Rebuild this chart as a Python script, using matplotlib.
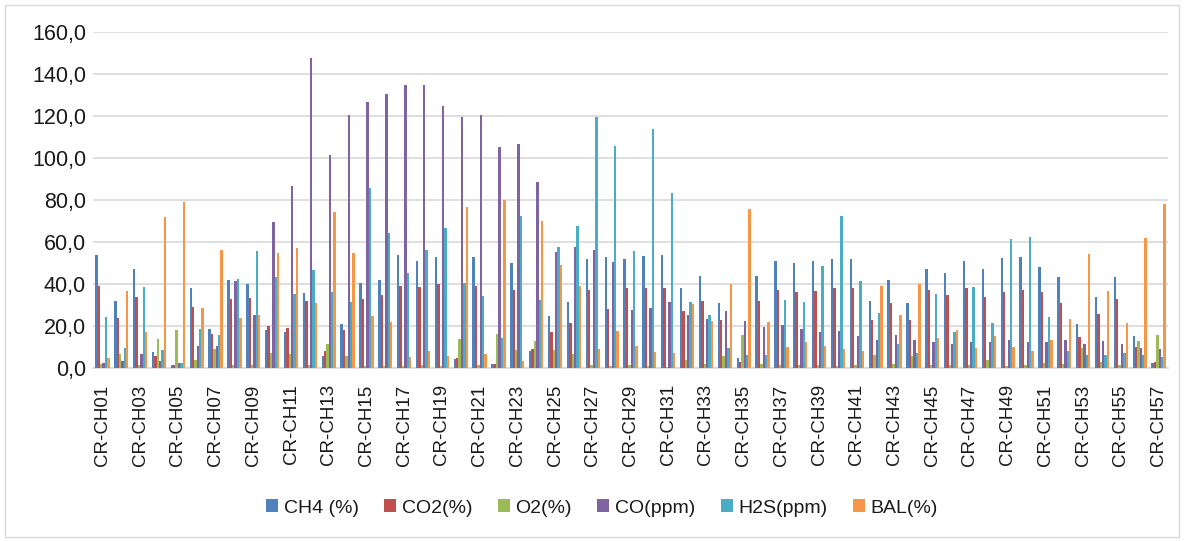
import numpy as np
import matplotlib
matplotlib.use("Agg")
import matplotlib.pyplot as plt
from matplotlib.patches import Rectangle
from matplotlib.ticker import FuncFormatter

categories = ["CR-CH%02d" % i for i in range(1, 58)]

ch4 = [53.7, 31.7, 47, 7.6, 1.1, 37.9, 18.6, 41.6, 39.8, 17.8, 16.8, 35.4, 5.7, 20.6, 40.5, 41.6,
       53.7, 50.8, 52.5, 4.3, 52.5, 1.6, 49.7, 7.9, 24.6, 31.4, 51.9, 52.9, 51.7, 53.2, 53.7, 37.9,
       43.8, 30.8, 4.6, 43.8, 50.8, 49.7, 50.8, 51.7, 51.7, 31.6, 41.7, 31, 47, 44.9, 50.8, 47,
       52.4, 52.9, 47.8, 43.3, 20.6, 33.7, 43.3, 15.1, 2.4]
co2 = [38.7, 23.7, 33.7, 5.7, 1.1, 28.9, 15.9, 32.7, 33, 20, 18.7, 31.6, 7.9, 17.9, 32.7, 34.8,
       38.7, 38.6, 39.8, 4.6, 38.9, 1.6, 37.1, 8.7, 16.8, 21.4, 37, 27.8, 37.9, 37.9, 37.9, 26.8,
       31.6, 22.5, 2.9, 31.7, 37, 35.9, 36.7, 37.8, 37.8, 22.7, 30.6, 22.5, 37, 34.8, 37.9, 33.5,
       35.9, 37, 35.9, 30.6, 14.6, 25.7, 32.7, 9.7, 2.9]
o2 = [2, 6.7, 1.3, 13.7, 17.8, 3.8, 8.7, 1.3, 1.1, 7, 6.7, 1.1, 11.4, 5.7, 1, 1,
      1, 1.3, 0.8, 13.7, 1.1, 16, 8.6, 12.7, 8.6, 6.7, 1.1, 0.8, 1.3, 0.8, 0.5, 3.7,
      1.7, 5.7, 15.7, 1.6, 1.3, 1.1, 1.1, 0.8, 1.3, 6, 1.7, 5.6, 1.3, 1.3, 1.1, 3.5,
      0.8, 1.3, 2.2, 1.6, 9.5, 2.7, 1.1, 12.5, 15.7]
co = [2.4, 3.2, 6.3, 3.2, 2.4, 10.2, 10.3, 41.3, 25.2, 69.2, 86.5, 147.3, 101.3, 120.3, 126.3, 130.5,
      134.4, 134.4, 124.4, 119.4, 120.3, 105.3, 106.3, 88.3, 55.2, 57.3, 56.2, 50.3, 27.3, 28.3, 31.3, 25.2,
      23.3, 27.1, 22.2, 19.2, 20.3, 18.3, 17.1, 17.5, 15.2, 13.2, 15.4, 13.2, 12.2, 11.3, 12.2, 12.2,
      13.2, 12.2, 12.2, 13.2, 11.3, 12.7, 11.3, 9.2, 8.9]
h2s = [24.1, 9.2, 38.3, 8.3, 2.4, 18.4, 15.4, 42.2, 55.4, 43.2, 35.1, 46.3, 36.2, 31.3, 85.4, 64.3,
       45.2, 56.2, 66.3, 40.2, 34.3, 14, 72.4, 32.2, 57.3, 67.3, 119.2, 105.4, 55.4, 113.5, 83.3, 31.1,
       25.2, 9.2, 6.2, 6.2, 32.2, 31.1, 48.3, 72.4, 41.3, 26.2, 11.3, 7.1, 35.1, 17.1, 38.3, 21.1,
       61.3, 62.2, 24.3, 8.1, 6.2, 6.2, 7.1, 6.2, 5.1]
bal = [4.8, 36.7, 17, 71.9, 78.7, 28.4, 56, 23.7, 25.2, 54.4, 56.8, 31, 74, 54.6, 24.8, 21.6,
       5.2, 7.9, 5.6, 76.3, 6.3, 79.7, 3.2, 69.8, 48.9, 39, 8.9, 17.6, 10.3, 7.6, 7, 30.3,
       22.1, 39.8, 75.7, 21.9, 9.8, 12.4, 10.3, 8.9, 7.9, 38.7, 24.9, 39.8, 14, 17.9, 9.2, 15.1,
       9.7, 7.9, 13.2, 23.2, 54.1, 36.5, 21.4, 61.6, 77.9]

series_names = ["CH4 (%)", "CO2(%)", "O2(%)", "CO(ppm)", "H2S(ppm)", "BAL(%)"]
series_values = [ch4, co2, o2, co, h2s, bal]
colors = ["#4F81BD", "#C0504D", "#9BBB59", "#8064A2", "#4BACC6", "#F79646"]

REG = ["Liberation Sans", "DejaVu Sans"]

W, H = 1184, 541
fig = plt.figure(figsize=(W / 100, H / 100), dpi=100)
fig.patch.set_facecolor("white")

# outer chart border
fig.patches.append(Rectangle((5 / W, 4 / H), 1174 / W, 532 / H, transform=fig.transFigure,
                             fill=False, edgecolor="#D9D9D9", linewidth=1.0))

left, right = 93, 1168
bottom_px, top_px = 367.7, 31.7
ax = fig.add_axes([left / W, (H - bottom_px) / H, (right - left) / W, (bottom_px - top_px) / H])

n = len(categories)
x = np.arange(n)
bw = 0.126
for i, (name, vals, c) in enumerate(zip(series_names, series_values, colors)):
    ax.bar(x + (i - 2.5) * bw, vals, width=bw, color=c, label=name, linewidth=0, zorder=3)

ax.set_xlim(-0.5, n - 0.5)
ax.set_ylim(0, 160)
ax.set_yticks(np.arange(0, 161, 20))
ax.yaxis.set_major_formatter(FuncFormatter(lambda v, p: ("%.1f" % v).replace(".", ",")))
ax.grid(axis="y", color="#D9D9D9", linewidth=1.2, zorder=0)
ax.set_axisbelow(True)
for s in ["top", "right", "left"]:
    ax.spines[s].set_visible(False)
ax.spines["bottom"].set_color("#D9D9D9")
ax.spines["bottom"].set_linewidth(1.2)

ax.set_xticks(x[::2])
ax.set_xticklabels(categories[::2], rotation=90, fontsize=13.5, family=REG, color="#1a1a1a")
ax.tick_params(axis="x", length=0, pad=12)
ax.tick_params(axis="y", length=0, pad=5)
for t in ax.get_yticklabels():
    t.set_family(REG)
    t.set_fontsize(15.5)
    t.set_color("#1a1a1a")

leg = fig.legend(loc="center", bbox_to_anchor=(602 / W, (H - 508) / H), ncol=6, frameon=False,
                 prop={"family": REG, "size": 14}, handlelength=0.62, handleheight=0.62,
                 handletextpad=0.3, columnspacing=1.3)
for t in leg.get_texts():
    t.set_color("#1a1a1a")

fig.savefig("out.png", dpi=100, facecolor="white")
